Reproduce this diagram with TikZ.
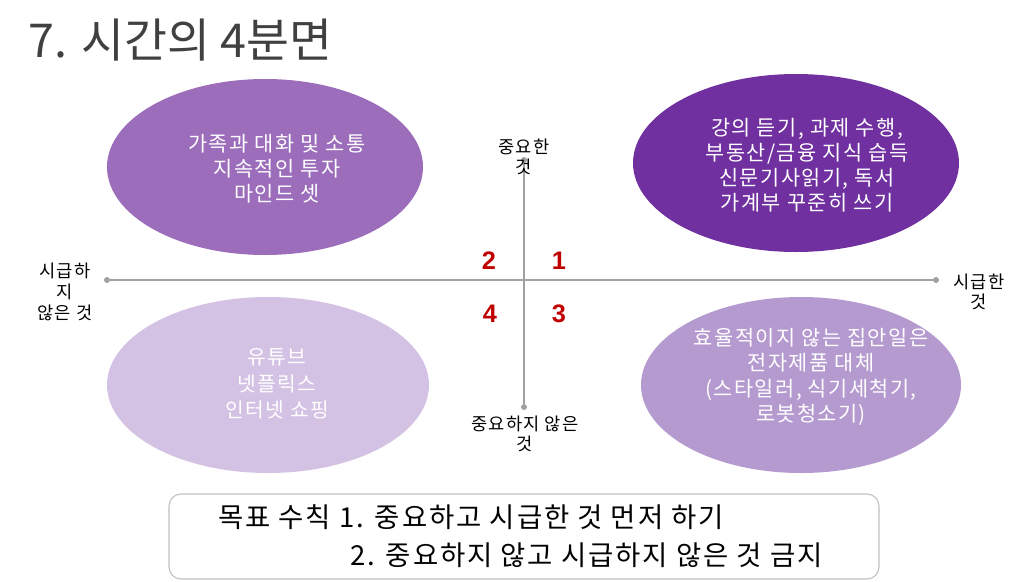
\documentclass[tikz,border=0pt]{standalone}
\usepackage{fontspec}
\setmainfont{Noto Sans CJK KR}[LetterSpace=7]
\newfontfamily\titlefont{Noto Sans CJK KR}
\newfontfamily\numfont{Liberation Sans}
\usetikzlibrary{positioning, shapes.geometric}
\definecolor{qone}{HTML}{7030A0}
\definecolor{qtwo}{HTML}{9B6DBB}
\definecolor{qthree}{HTML}{B59AD0}
\definecolor{qfour}{HTML}{D4C2E4}
\definecolor{axisgray}{HTML}{A0A0A0}
\definecolor{numred}{HTML}{C00000}
\definecolor{titlegray}{HTML}{404040}

\begin{document}
\begin{tikzpicture}[
        x=0.75pt, y=-0.75pt,
        quad/.style={ellipse, draw=none, inner sep=0},
        qtext/.style={text=white, align=center, font=\fontsize{15.6}{18.8}\selectfont},
        axis/.style={draw=axisgray, line width=1.1pt},
        dot/.style={circle, fill=axisgray, inner sep=0, minimum size=4.5pt},
        lbl/.style={align=center, inner sep=0, font=\fontsize{13.2}{15.5}\selectfont},
        num/.style={text=numred, font=\numfont\bfseries\fontsize{19}{19}\selectfont},
        goal/.style={draw=black!25, rounded corners=9pt, line width=0.8pt},
        rule/.style={anchor=west, inner sep=0, font=\fontsize{20.6}{22}\selectfont}
      ]
        \useasboundingbox (0,0) rectangle (1025,582);

        % Title
        \node[anchor=west, text=titlegray, font=\titlefont\fontsize{35}{38}\selectfont] (title) at (24,40) {7. 시간의 4분면};

        % Quadrants
        \node[quad, fill=qtwo, minimum width=237pt, minimum height=132pt] (q2) at (265,167) {};
        \node[qtext] (q2txt) at (277,169) {가족과 대화 및 소통\\지속적인 투자\\마인드 셋};

        \node[quad, fill=qone, minimum width=244.5pt, minimum height=133.5pt] (q1) at (796,163) {};
        \node[qtext] (q1txt) at (807,165) {강의 듣기, 과제 수행,\\부동산/금융 지식 습득\\신문기사읽기, 독서\\가계부 꾸준히 쓰기};

        \node[quad, fill=qfour, minimum width=241.5pt, minimum height=132pt] (q4) at (268,385) {};
        \node[qtext, font=\fontsize{15.2}{20}\selectfont] (q4txt) at (277,384) {유튜브\\넷플릭스\\인터넷 쇼핑};

        \node[quad, fill=qthree, minimum width=240pt, minimum height=132pt] (q3) at (801,385) {};
        \node[qtext, font=\fontsize{15.6}{19.2}\selectfont] (q3txt) at (811,377) {효율적이지 않는 집안일은\\전자제품 대체\\(스타일러, 식기세척기,\\로봇청소기)};

        % Axes
        \node[dot] (xl) at (107,280) {};
        \node[dot] (xr) at (936,280) {};
        \node[dot] (yt) at (524,160) {};
        \node[dot] (yb) at (524,407) {};
        \draw[axis] (xl) -- (xr);
        \draw[axis] (yt) -- (yb);

        \node[lbl] (ytop) at (524,157) {중요한\\것};
        \node[lbl] (ybot) at (525,434) {중요하지 않은\\것};
        \node[lbl] (xleft) at (65,292) {시급하\\지\\않은 것};
        \node[lbl] (xright) at (979,292) {시급한\\것};

        % Numbers
        \node[num] (n1) at (559,261) {1};
        \node[num] (n2) at (489,261) {2};
        \node[num] (n3) at (559,314) {3};
        \node[num] (n4) at (490,314) {4};

        % Rules
        \node[goal, minimum width=532.5pt, minimum height=63.75pt] (rules) at (524,536.5) {};
        \node[rule] (rule1) at (218,517) {목표 수칙 1. 중요하고 시급한 것 먼저 하기};
        \node[rule] (rule2) at (350,555) {2. 중요하지 않고 시급하지 않은 것 금지};
      \end{tikzpicture}
\end{document}
